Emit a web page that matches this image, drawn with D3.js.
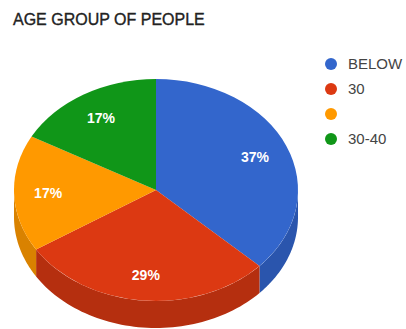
<!DOCTYPE html>
<html>
<head>
<meta charset="utf-8">
<script src="https://cdn.jsdelivr.net/npm/d3@7"></script>
<style>
  html, body { margin: 0; padding: 0; background: #fff; }
  svg { display: block; }
</style>
</head>
<body>
<svg id="chart" width="406" height="329"></svg>
<script>
// Age group shares (percent)
const categories = ["BELOW", "30", "", "30-40"];
const values = [37, 29, 17, 17];
const topColors = ["#3366cc", "#dc3912", "#ff9900", "#109618"];
const sideColors = ["#2a55ad", "#b52f0f", "#d98200", "#0c7c13"];
const title = "AGE GROUP OF PEOPLE";

const width = 406, height = 329;
const cx = 156, cy = 190;      // centre of the pie's top face
const rx = 142, ry = 111;      // ellipse radii of the tilted pie
const depth = 27;              // thickness of the pie wall

const svg = d3.select("#chart");

svg.append("text")
  .attr("x", 13).attr("y", 25)
  .attr("font-family", "Liberation Sans, Arial, sans-serif")
  .attr("font-size", 16)
  .attr("fill", "#222")
  .attr("stroke", "#222").attr("stroke-width", 0.35)
  .text(title);

const pie = d3.pie().sort(null).value(d => d)
  .startAngle(0).endAngle(2 * Math.PI);
const arcsData = pie(values);

const color = d3.scaleOrdinal().domain(d3.range(values.length)).range(topColors);
const side = d3.scaleOrdinal().domain(d3.range(values.length)).range(sideColors);

// point on the top ellipse for pie angle a (clockwise from 12 o'clock)
const pt = (a, dy = 0) => [cx + rx * Math.sin(a), cy - ry * Math.cos(a) + dy];

// front wall: only the part of each slice facing the viewer (angles PI/2 .. 3PI/2)
const wall = svg.append("g");
arcsData.forEach((d, i) => {
  const a0 = Math.max(d.startAngle, Math.PI / 2);
  const a1 = Math.min(d.endAngle, 3 * Math.PI / 2);
  if (a1 <= a0) return;
  const steps = d3.range(0, 1.0001, 1 / 60).map(t => a0 + (a1 - a0) * t);
  const topEdge = steps.map(a => pt(a));
  const bottomEdge = steps.slice().reverse().map(a => pt(a, depth));
  wall.append("path")
    .attr("d", d3.line()(topEdge.concat(bottomEdge)) + "Z")
    .attr("fill", side(i));
});

// top face: circular arcs squashed into an ellipse
const topFace = svg.append("g")
  .attr("transform", `translate(${cx},${cy}) scale(1,${ry / rx})`);
const arc = d3.arc().innerRadius(0).outerRadius(rx);
topFace.selectAll("path").data(arcsData).join("path")
  .attr("d", arc)
  .attr("fill", (d, i) => color(i));

// percentage labels
const labelArc = d3.arc().innerRadius(rx * 0.76).outerRadius(rx * 0.76);
const total = d3.sum(values);
svg.append("g").selectAll("text").data(arcsData).join("text")
  .attr("transform", d => {
    const [x, y] = labelArc.centroid(d);
    return `translate(${cx + x},${cy + y * ry / rx})`;
  })
  .attr("text-anchor", "middle")
  .attr("dy", "0.4em")
  .attr("font-family", "Liberation Sans, Arial, sans-serif")
  .attr("font-size", 14)
  .attr("font-weight", "bold")
  .attr("fill", "#fff")
  .text(d => Math.round(d.value / total * 100) + "%");

// legend
const legendY = d3.scalePoint().domain(d3.range(categories.length)).range([64, 139]);
const legend = svg.append("g").selectAll("g").data(categories).join("g")
  .attr("transform", (d, i) => `translate(331,${legendY(i)})`);
legend.append("circle").attr("r", 6).attr("fill", (d, i) => color(i));
legend.append("text")
  .attr("x", 17).attr("dy", "0.36em")
  .attr("font-family", "Liberation Sans, Arial, sans-serif")
  .attr("font-size", 15)
  .attr("fill", "#444")
  .text(d => d);
</script>
</body>
</html>
